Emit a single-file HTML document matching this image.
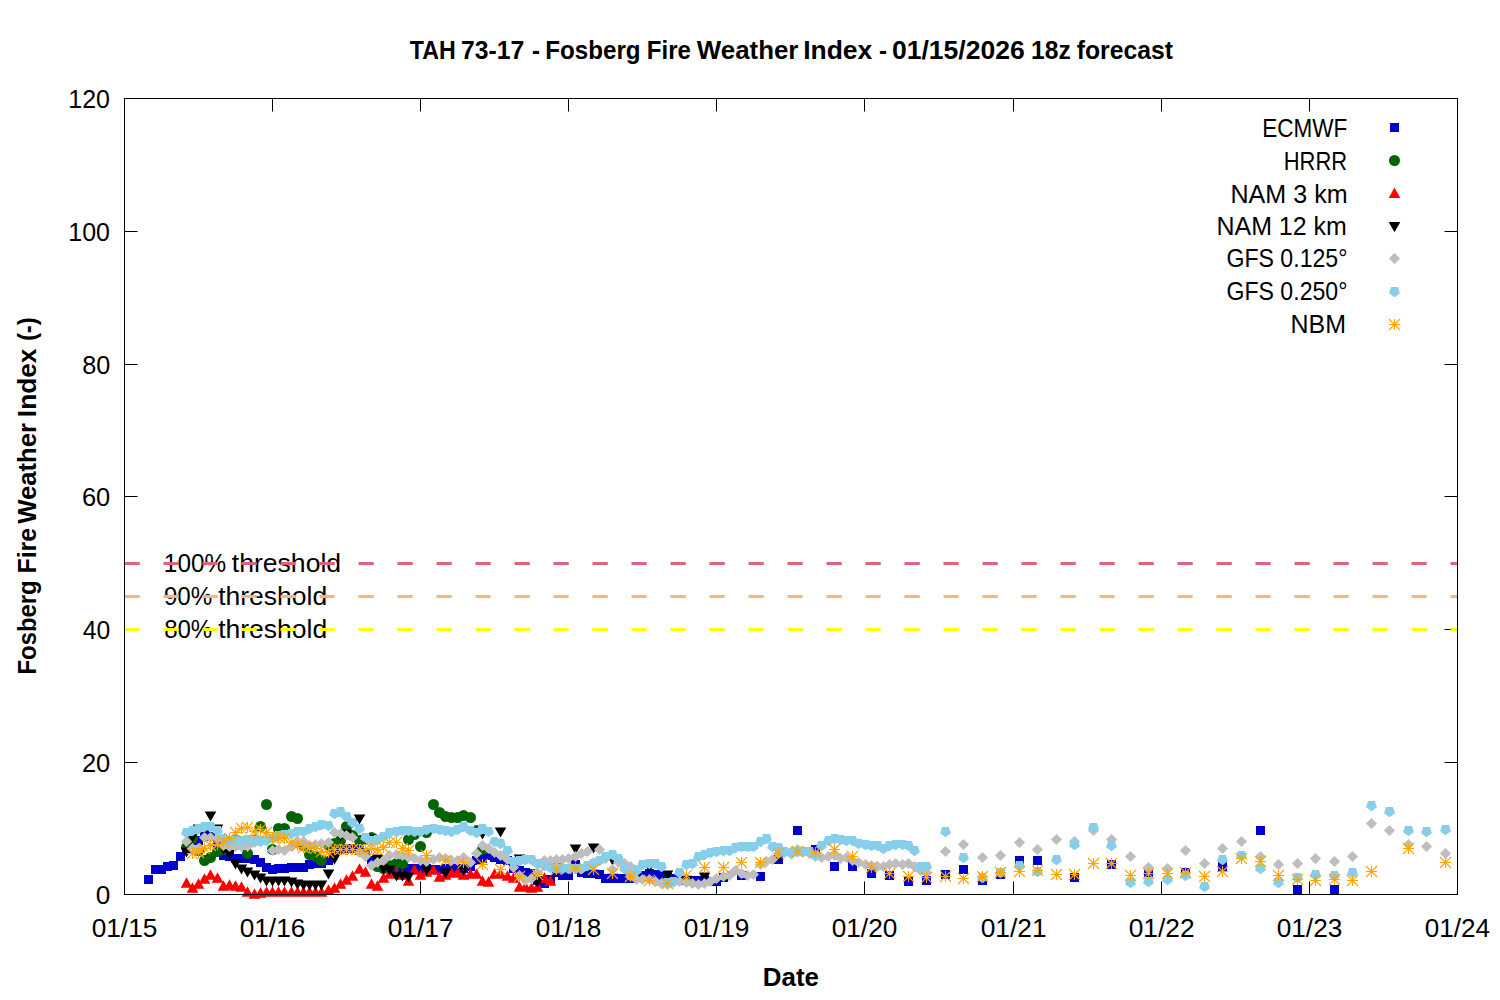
<!DOCTYPE html>
<html><head><meta charset="utf-8"><title>TAH 73-17 - Fosberg Fire Weather Index</title>
<style>html,body{margin:0;padding:0;background:#fff;width:1500px;height:1000px;overflow:hidden}
svg{display:block;font-family:'Liberation Sans', 'DejaVu Sans', sans-serif;fill:#000}</style></head>
<body>
<svg width="1500" height="1000" viewBox="0 0 1500 1000">
<rect x="0" y="0" width="1500" height="1000" fill="#fff"/>
<text x="409.77" y="58.50" font-size="25" font-weight="bold" textLength="45.88" lengthAdjust="spacingAndGlyphs">TAH</text>
<text x="461.01" y="58.50" font-size="25" font-weight="bold" textLength="63.18" lengthAdjust="spacingAndGlyphs">73-17</text>
<text x="532.04" y="58.50" font-size="25" font-weight="bold" textLength="8.00" lengthAdjust="spacingAndGlyphs">-</text>
<text x="545.31" y="58.50" font-size="25" font-weight="bold" textLength="95.26" lengthAdjust="spacingAndGlyphs">Fosberg</text>
<text x="646.82" y="58.50" font-size="25" font-weight="bold" textLength="44.11" lengthAdjust="spacingAndGlyphs">Fire</text>
<text x="696.80" y="58.50" font-size="25" font-weight="bold" textLength="101.65" lengthAdjust="spacingAndGlyphs">Weather</text>
<text x="803.15" y="58.50" font-size="25" font-weight="bold" textLength="69.17" lengthAdjust="spacingAndGlyphs">Index</text>
<text x="879.04" y="58.50" font-size="25" font-weight="bold" textLength="8.00" lengthAdjust="spacingAndGlyphs">-</text>
<text x="891.94" y="58.50" font-size="25" font-weight="bold" textLength="132.79" lengthAdjust="spacingAndGlyphs">01/15/2026</text>
<text x="1031.12" y="58.50" font-size="25" font-weight="bold" textLength="39.68" lengthAdjust="spacingAndGlyphs">18z</text>
<text x="1076.81" y="58.50" font-size="25" font-weight="bold" textLength="96.06" lengthAdjust="spacingAndGlyphs">forecast</text>
<text x="68.30" y="107.50" font-size="25" textLength="41.66" lengthAdjust="spacingAndGlyphs">120</text>
<text x="68.30" y="240.50" font-size="25" textLength="41.66" lengthAdjust="spacingAndGlyphs">100</text>
<text x="82.19" y="373.50" font-size="25" textLength="28.08" lengthAdjust="spacingAndGlyphs">80</text>
<text x="81.93" y="505.50" font-size="25" textLength="28.36" lengthAdjust="spacingAndGlyphs">60</text>
<text x="82.70" y="638.50" font-size="25" textLength="27.55" lengthAdjust="spacingAndGlyphs">40</text>
<text x="81.93" y="771.50" font-size="25" textLength="28.36" lengthAdjust="spacingAndGlyphs">20</text>
<text x="95.65" y="903.50" font-size="25" textLength="14.60" lengthAdjust="spacingAndGlyphs">0</text>
<text x="91.70" y="936.90" font-size="25" textLength="65.66" lengthAdjust="spacingAndGlyphs">01/15</text>
<text x="239.70" y="936.90" font-size="25" textLength="65.66" lengthAdjust="spacingAndGlyphs">01/16</text>
<text x="387.70" y="936.90" font-size="25" textLength="65.94" lengthAdjust="spacingAndGlyphs">01/17</text>
<text x="535.70" y="936.90" font-size="25" textLength="65.66" lengthAdjust="spacingAndGlyphs">01/18</text>
<text x="683.70" y="936.90" font-size="25" textLength="65.66" lengthAdjust="spacingAndGlyphs">01/19</text>
<text x="831.70" y="936.90" font-size="25" textLength="65.66" lengthAdjust="spacingAndGlyphs">01/20</text>
<text x="980.70" y="936.90" font-size="25" textLength="65.94" lengthAdjust="spacingAndGlyphs">01/21</text>
<text x="1128.70" y="936.90" font-size="25" textLength="65.94" lengthAdjust="spacingAndGlyphs">01/22</text>
<text x="1276.70" y="936.90" font-size="25" textLength="65.66" lengthAdjust="spacingAndGlyphs">01/23</text>
<text x="1424.70" y="936.90" font-size="25" textLength="65.39" lengthAdjust="spacingAndGlyphs">01/24</text>
<path d="M124.5,231.5h13M1457.5,231.5h-13M124.5,364.5h13M1457.5,364.5h-13M124.5,496.5h13M1457.5,496.5h-13M124.5,629.5h13M1457.5,629.5h-13M124.5,762.5h13M1457.5,762.5h-13M272.5,894.5v-13M272.5,98.5v13M420.5,894.5v-13M420.5,98.5v13M568.5,894.5v-13M568.5,98.5v13M716.5,894.5v-13M716.5,98.5v13M864.5,894.5v-13M864.5,98.5v13M1013.5,894.5v-13M1013.5,98.5v13M1161.5,894.5v-13M1161.5,98.5v13M1309.5,894.5v-13M1309.5,98.5v13" stroke="#000" stroke-width="1" fill="none"/>
<text x="762.89" y="985.70" font-size="25" font-weight="bold" textLength="56.08" lengthAdjust="spacingAndGlyphs">Date</text>
<text transform="translate(36.4,674.47) rotate(-90)" x="0" y="0" font-size="25" font-weight="bold" textLength="94.02" lengthAdjust="spacingAndGlyphs">Fosberg</text>
<text transform="translate(36.4,573.54) rotate(-90)" x="0" y="0" font-size="25" font-weight="bold" textLength="45.59" lengthAdjust="spacingAndGlyphs">Fire</text>
<text transform="translate(36.4,523.70) rotate(-90)" x="0" y="0" font-size="25" font-weight="bold" textLength="100.75" lengthAdjust="spacingAndGlyphs">Weather</text>
<text transform="translate(36.4,417.13) rotate(-90)" x="0" y="0" font-size="25" font-weight="bold" textLength="68.45" lengthAdjust="spacingAndGlyphs">Index</text>
<text transform="translate(36.4,341.09) rotate(-90)" x="0" y="0" font-size="25" font-weight="bold" textLength="23.76" lengthAdjust="spacingAndGlyphs">(-)</text>
<text x="163.85" y="571.80" font-size="25" textLength="62.28" lengthAdjust="spacingAndGlyphs">100%</text>
<text x="231.77" y="571.80" font-size="25" textLength="109.34" lengthAdjust="spacingAndGlyphs">threshold</text>
<text x="163.89" y="604.70" font-size="25" textLength="48.38" lengthAdjust="spacingAndGlyphs">90%</text>
<text x="218.17" y="604.70" font-size="25" textLength="109.04" lengthAdjust="spacingAndGlyphs">threshold</text>
<text x="164.14" y="638.00" font-size="25" textLength="48.13" lengthAdjust="spacingAndGlyphs">80%</text>
<text x="218.17" y="638.00" font-size="25" textLength="109.04" lengthAdjust="spacingAndGlyphs">threshold</text>
<path d="M124.5,563.50H1457.5" stroke="#de6478" stroke-width="3" stroke-dasharray="15.25 23.75" fill="none"/>
<path d="M124.5,596.50H1457.5" stroke="#f9b67c" stroke-width="3" stroke-dasharray="15.25 23.75" fill="none"/>
<path d="M124.5,629.50H1457.5" stroke="#ffff00" stroke-width="3" stroke-dasharray="15.25 23.75" fill="none"/>
<text x="1262.20" y="137.00" font-size="25" textLength="85.13" lengthAdjust="spacingAndGlyphs">ECMWF</text>
<text x="1283.75" y="170.00" font-size="25" textLength="63.32" lengthAdjust="spacingAndGlyphs">HRRR</text>
<text x="1230.49" y="202.50" font-size="25" textLength="117.20" lengthAdjust="spacingAndGlyphs">NAM 3 km</text>
<text x="1216.50" y="234.80" font-size="25" textLength="130.29" lengthAdjust="spacingAndGlyphs">NAM 12 km</text>
<text x="1226.44" y="267.20" font-size="25" textLength="120.99" lengthAdjust="spacingAndGlyphs">GFS 0.125°</text>
<text x="1226.44" y="299.80" font-size="25" textLength="120.99" lengthAdjust="spacingAndGlyphs">GFS 0.250°</text>
<text x="1290.60" y="332.90" font-size="25" textLength="55.45" lengthAdjust="spacingAndGlyphs">NBM</text>
<path d="M144.0,875.0h9v9h-9zM151.0,865.0h9v9h-9zM157.0,865.0h9v9h-9zM163.0,862.0h9v9h-9zM169.0,861.0h9v9h-9zM176.0,852.0h9v9h-9zM182.0,844.0h9v9h-9zM188.0,836.0h9v9h-9zM194.0,836.0h9v9h-9zM200.0,830.0h9v9h-9zM206.0,832.0h9v9h-9zM213.0,838.0h9v9h-9zM219.0,851.0h9v9h-9zM225.0,852.0h9v9h-9zM231.0,854.0h9v9h-9zM237.0,854.0h9v9h-9zM243.0,854.0h9v9h-9zM250.0,855.0h9v9h-9zM256.0,858.0h9v9h-9zM262.0,863.0h9v9h-9zM268.0,865.0h9v9h-9zM274.0,864.0h9v9h-9zM280.0,864.0h9v9h-9zM287.0,863.0h9v9h-9zM293.0,863.0h9v9h-9zM299.0,863.0h9v9h-9zM305.0,860.0h9v9h-9zM311.0,859.0h9v9h-9zM317.0,859.0h9v9h-9zM324.0,856.0h9v9h-9zM330.0,848.0h9v9h-9zM336.0,845.0h9v9h-9zM342.0,844.0h9v9h-9zM348.0,844.0h9v9h-9zM355.0,846.0h9v9h-9zM361.0,848.0h9v9h-9zM367.0,856.0h9v9h-9zM373.0,859.0h9v9h-9zM379.0,862.0h9v9h-9zM385.0,863.0h9v9h-9zM392.0,863.0h9v9h-9zM398.0,863.0h9v9h-9zM404.0,864.0h9v9h-9zM410.0,864.0h9v9h-9zM416.0,864.0h9v9h-9zM422.0,864.0h9v9h-9zM429.0,865.0h9v9h-9zM435.0,865.0h9v9h-9zM441.0,864.0h9v9h-9zM447.0,864.0h9v9h-9zM453.0,864.0h9v9h-9zM459.0,864.0h9v9h-9zM466.0,862.0h9v9h-9zM472.0,856.0h9v9h-9zM478.0,854.0h9v9h-9zM484.0,851.0h9v9h-9zM490.0,853.0h9v9h-9zM496.0,855.0h9v9h-9zM503.0,856.0h9v9h-9zM509.0,864.0h9v9h-9zM515.0,866.0h9v9h-9zM521.0,868.0h9v9h-9zM527.0,869.0h9v9h-9zM533.0,876.0h9v9h-9zM540.0,879.0h9v9h-9zM546.0,875.0h9v9h-9zM552.0,868.0h9v9h-9zM558.0,871.0h9v9h-9zM564.0,871.0h9v9h-9zM571.0,860.0h9v9h-9zM577.0,868.0h9v9h-9zM583.0,869.0h9v9h-9zM589.0,869.0h9v9h-9zM595.0,870.0h9v9h-9zM601.0,874.0h9v9h-9zM608.0,874.0h9v9h-9zM614.0,874.0h9v9h-9zM620.0,874.0h9v9h-9zM626.0,874.0h9v9h-9zM632.0,873.0h9v9h-9zM638.0,871.0h9v9h-9zM645.0,869.0h9v9h-9zM651.0,870.0h9v9h-9zM657.0,871.0h9v9h-9zM663.0,872.0h9v9h-9zM669.0,874.0h9v9h-9zM675.0,876.0h9v9h-9zM682.0,876.0h9v9h-9zM688.0,876.0h9v9h-9zM694.0,876.0h9v9h-9zM700.0,876.0h9v9h-9zM706.0,877.0h9v9h-9zM712.0,877.0h9v9h-9zM719.0,873.0h9v9h-9zM737.0,871.0h9v9h-9zM756.0,872.0h9v9h-9zM774.0,855.0h9v9h-9zM793.0,826.0h9v9h-9zM811.0,845.0h9v9h-9zM830.0,862.0h9v9h-9zM848.0,862.0h9v9h-9zM867.0,869.0h9v9h-9zM885.0,871.0h9v9h-9zM904.0,877.0h9v9h-9zM922.0,876.0h9v9h-9zM941.0,870.0h9v9h-9zM959.0,865.0h9v9h-9zM978.0,876.0h9v9h-9zM996.0,870.0h9v9h-9zM1015.0,856.0h9v9h-9zM1033.0,856.0h9v9h-9zM1070.0,873.0h9v9h-9zM1107.0,860.0h9v9h-9zM1144.0,869.0h9v9h-9zM1181.0,868.0h9v9h-9zM1218.0,862.0h9v9h-9zM1256.0,826.0h9v9h-9zM1293.0,885.0h9v9h-9zM1330.0,885.0h9v9h-9z" fill="#0000cd"/>
<g fill="#006400"><circle cx="186.5" cy="847.5" r="5.5"/><circle cx="192.5" cy="838.5" r="5.5"/><circle cx="198.5" cy="850.5" r="5.5"/><circle cx="204.5" cy="860.5" r="5.5"/><circle cx="210.5" cy="857.5" r="5.5"/><circle cx="217.5" cy="851.5" r="5.5"/><circle cx="223.5" cy="849.5" r="5.5"/><circle cx="229.5" cy="846.5" r="5.5"/><circle cx="235.5" cy="840.5" r="5.5"/><circle cx="241.5" cy="842.5" r="5.5"/><circle cx="247.5" cy="853.5" r="5.5"/><circle cx="254.5" cy="840.5" r="5.5"/><circle cx="260.5" cy="826.5" r="5.5"/><circle cx="266.5" cy="804.5" r="5.5"/><circle cx="272.5" cy="849.5" r="5.5"/><circle cx="278.5" cy="828.5" r="5.5"/><circle cx="284.5" cy="828.5" r="5.5"/><circle cx="291.5" cy="816.5" r="5.5"/><circle cx="297.5" cy="818.5" r="5.5"/><circle cx="303.5" cy="845.5" r="5.5"/><circle cx="309.5" cy="854.5" r="5.5"/><circle cx="315.5" cy="856.5" r="5.5"/><circle cx="321.5" cy="860.5" r="5.5"/><circle cx="328.5" cy="845.5" r="5.5"/><circle cx="334.5" cy="843.5" r="5.5"/><circle cx="340.5" cy="840.5" r="5.5"/><circle cx="346.5" cy="826.5" r="5.5"/><circle cx="352.5" cy="835.5" r="5.5"/><circle cx="359.5" cy="840.5" r="5.5"/><circle cx="365.5" cy="838.5" r="5.5"/><circle cx="371.5" cy="837.5" r="5.5"/><circle cx="377.5" cy="866.5" r="5.5"/><circle cx="383.5" cy="868.5" r="5.5"/><circle cx="389.5" cy="865.5" r="5.5"/><circle cx="396.5" cy="863.5" r="5.5"/><circle cx="402.5" cy="863.5" r="5.5"/><circle cx="408.5" cy="839.5" r="5.5"/><circle cx="414.5" cy="834.5" r="5.5"/><circle cx="420.5" cy="846.5" r="5.5"/><circle cx="426.5" cy="832.5" r="5.5"/><circle cx="433.5" cy="804.5" r="5.5"/><circle cx="439.5" cy="812.5" r="5.5"/><circle cx="445.5" cy="816.5" r="5.5"/><circle cx="451.5" cy="817.5" r="5.5"/><circle cx="457.5" cy="817.5" r="5.5"/><circle cx="463.5" cy="815.5" r="5.5"/><circle cx="470.5" cy="817.5" r="5.5"/><circle cx="476.5" cy="830.5" r="5.5"/><circle cx="482.5" cy="849.5" r="5.5"/></g>
<path d="M186.5,877.3l5.8,10.4h-11.6zM192.5,882.3l5.8,10.4h-11.6zM198.5,878.3l5.8,10.4h-11.6zM204.5,873.3l5.8,10.4h-11.6zM210.5,869.3l5.8,10.4h-11.6zM217.5,872.3l5.8,10.4h-11.6zM223.5,880.3l5.8,10.4h-11.6zM229.5,879.3l5.8,10.4h-11.6zM235.5,880.3l5.8,10.4h-11.6zM241.5,881.3l5.8,10.4h-11.6zM247.5,886.3l5.8,10.4h-11.6zM254.5,888.3l5.8,10.4h-11.6zM260.5,887.3l5.8,10.4h-11.6zM266.5,886.3l5.8,10.4h-11.6zM272.5,886.3l5.8,10.4h-11.6zM278.5,886.3l5.8,10.4h-11.6zM284.5,886.3l5.8,10.4h-11.6zM291.5,886.3l5.8,10.4h-11.6zM297.5,886.3l5.8,10.4h-11.6zM303.5,886.3l5.8,10.4h-11.6zM309.5,886.3l5.8,10.4h-11.6zM315.5,886.3l5.8,10.4h-11.6zM321.5,886.3l5.8,10.4h-11.6zM328.5,884.3l5.8,10.4h-11.6zM334.5,882.3l5.8,10.4h-11.6zM340.5,878.3l5.8,10.4h-11.6zM346.5,874.3l5.8,10.4h-11.6zM352.5,870.3l5.8,10.4h-11.6zM359.5,863.3l5.8,10.4h-11.6zM365.5,866.3l5.8,10.4h-11.6zM371.5,878.3l5.8,10.4h-11.6zM377.5,880.3l5.8,10.4h-11.6zM383.5,872.3l5.8,10.4h-11.6zM389.5,868.3l5.8,10.4h-11.6zM396.5,867.3l5.8,10.4h-11.6zM402.5,869.3l5.8,10.4h-11.6zM408.5,875.3l5.8,10.4h-11.6zM414.5,864.3l5.8,10.4h-11.6zM420.5,869.3l5.8,10.4h-11.6zM426.5,866.3l5.8,10.4h-11.6zM433.5,864.3l5.8,10.4h-11.6zM439.5,871.3l5.8,10.4h-11.6zM445.5,869.3l5.8,10.4h-11.6zM451.5,867.3l5.8,10.4h-11.6zM457.5,867.3l5.8,10.4h-11.6zM463.5,869.3l5.8,10.4h-11.6zM470.5,868.3l5.8,10.4h-11.6zM476.5,868.3l5.8,10.4h-11.6zM482.5,875.3l5.8,10.4h-11.6zM488.5,876.3l5.8,10.4h-11.6zM494.5,868.3l5.8,10.4h-11.6zM500.5,868.3l5.8,10.4h-11.6zM507.5,870.3l5.8,10.4h-11.6zM513.5,872.3l5.8,10.4h-11.6zM519.5,881.3l5.8,10.4h-11.6zM525.5,881.3l5.8,10.4h-11.6zM531.5,882.3l5.8,10.4h-11.6zM537.5,881.3l5.8,10.4h-11.6zM544.5,872.3l5.8,10.4h-11.6zM550.5,875.3l5.8,10.4h-11.6z" fill="#ff0000"/>
<path d="M180.7,847.4h11.6l-5.8,10.2zM186.7,832.4h11.6l-5.8,10.2zM192.7,824.4h11.6l-5.8,10.2zM198.7,825.4h11.6l-5.8,10.2zM204.7,811.4h11.6l-5.8,10.2zM211.7,824.4h11.6l-5.8,10.2zM217.7,844.4h11.6l-5.8,10.2zM223.7,849.4h11.6l-5.8,10.2zM229.7,859.4h11.6l-5.8,10.2zM235.7,864.4h11.6l-5.8,10.2zM241.7,867.4h11.6l-5.8,10.2zM248.7,870.4h11.6l-5.8,10.2zM254.7,873.4h11.6l-5.8,10.2zM260.7,876.4h11.6l-5.8,10.2zM266.7,876.4h11.6l-5.8,10.2zM272.7,876.4h11.6l-5.8,10.2zM278.7,876.4h11.6l-5.8,10.2zM285.7,877.4h11.6l-5.8,10.2zM291.7,879.4h11.6l-5.8,10.2zM297.7,880.4h11.6l-5.8,10.2zM303.7,880.4h11.6l-5.8,10.2zM309.7,880.4h11.6l-5.8,10.2zM315.7,880.4h11.6l-5.8,10.2zM322.7,869.4h11.6l-5.8,10.2zM328.7,854.4h11.6l-5.8,10.2zM334.7,831.4h11.6l-5.8,10.2zM340.7,829.4h11.6l-5.8,10.2zM346.7,818.4h11.6l-5.8,10.2zM353.7,814.4h11.6l-5.8,10.2zM359.7,835.4h11.6l-5.8,10.2zM365.7,834.4h11.6l-5.8,10.2zM371.7,854.4h11.6l-5.8,10.2zM377.7,864.4h11.6l-5.8,10.2zM383.7,865.4h11.6l-5.8,10.2zM390.7,871.4h11.6l-5.8,10.2zM396.7,871.4h11.6l-5.8,10.2zM402.7,872.4h11.6l-5.8,10.2zM420.7,865.4h11.6l-5.8,10.2zM439.7,868.4h11.6l-5.8,10.2zM457.7,865.4h11.6l-5.8,10.2zM476.7,829.4h11.6l-5.8,10.2zM494.7,827.4h11.6l-5.8,10.2zM513.7,854.4h11.6l-5.8,10.2zM531.7,877.4h11.6l-5.8,10.2zM550.7,863.4h11.6l-5.8,10.2zM569.7,844.4h11.6l-5.8,10.2zM587.7,843.4h11.6l-5.8,10.2zM606.7,855.4h11.6l-5.8,10.2zM624.7,865.4h11.6l-5.8,10.2zM643.7,862.4h11.6l-5.8,10.2zM661.7,870.4h11.6l-5.8,10.2zM680.7,876.4h11.6l-5.8,10.2zM698.7,872.4h11.6l-5.8,10.2z" fill="#000000"/>
<path d="M186.5,835.9l5.6,5.6l-5.6,5.6l-5.6,-5.6zM192.5,842.9l5.6,5.6l-5.6,5.6l-5.6,-5.6zM198.5,842.9l5.6,5.6l-5.6,5.6l-5.6,-5.6zM204.5,831.9l5.6,5.6l-5.6,5.6l-5.6,-5.6zM210.5,831.9l5.6,5.6l-5.6,5.6l-5.6,-5.6zM217.5,832.9l5.6,5.6l-5.6,5.6l-5.6,-5.6zM223.5,839.9l5.6,5.6l-5.6,5.6l-5.6,-5.6zM229.5,840.9l5.6,5.6l-5.6,5.6l-5.6,-5.6zM235.5,840.9l5.6,5.6l-5.6,5.6l-5.6,-5.6zM241.5,840.9l5.6,5.6l-5.6,5.6l-5.6,-5.6zM247.5,840.9l5.6,5.6l-5.6,5.6l-5.6,-5.6zM254.5,836.9l5.6,5.6l-5.6,5.6l-5.6,-5.6zM260.5,834.9l5.6,5.6l-5.6,5.6l-5.6,-5.6zM266.5,833.9l5.6,5.6l-5.6,5.6l-5.6,-5.6zM272.5,844.9l5.6,5.6l-5.6,5.6l-5.6,-5.6zM278.5,843.9l5.6,5.6l-5.6,5.6l-5.6,-5.6zM284.5,844.9l5.6,5.6l-5.6,5.6l-5.6,-5.6zM291.5,840.9l5.6,5.6l-5.6,5.6l-5.6,-5.6zM297.5,835.9l5.6,5.6l-5.6,5.6l-5.6,-5.6zM303.5,835.9l5.6,5.6l-5.6,5.6l-5.6,-5.6zM309.5,839.9l5.6,5.6l-5.6,5.6l-5.6,-5.6zM315.5,838.9l5.6,5.6l-5.6,5.6l-5.6,-5.6zM321.5,837.9l5.6,5.6l-5.6,5.6l-5.6,-5.6zM328.5,836.9l5.6,5.6l-5.6,5.6l-5.6,-5.6zM334.5,826.9l5.6,5.6l-5.6,5.6l-5.6,-5.6zM340.5,827.9l5.6,5.6l-5.6,5.6l-5.6,-5.6zM346.5,829.9l5.6,5.6l-5.6,5.6l-5.6,-5.6zM352.5,831.9l5.6,5.6l-5.6,5.6l-5.6,-5.6zM359.5,846.9l5.6,5.6l-5.6,5.6l-5.6,-5.6zM365.5,850.9l5.6,5.6l-5.6,5.6l-5.6,-5.6zM371.5,859.9l5.6,5.6l-5.6,5.6l-5.6,-5.6zM377.5,856.9l5.6,5.6l-5.6,5.6l-5.6,-5.6zM383.5,854.9l5.6,5.6l-5.6,5.6l-5.6,-5.6zM389.5,849.9l5.6,5.6l-5.6,5.6l-5.6,-5.6zM396.5,848.9l5.6,5.6l-5.6,5.6l-5.6,-5.6zM402.5,849.9l5.6,5.6l-5.6,5.6l-5.6,-5.6zM408.5,851.9l5.6,5.6l-5.6,5.6l-5.6,-5.6zM414.5,852.9l5.6,5.6l-5.6,5.6l-5.6,-5.6zM420.5,854.9l5.6,5.6l-5.6,5.6l-5.6,-5.6zM426.5,855.9l5.6,5.6l-5.6,5.6l-5.6,-5.6zM433.5,853.9l5.6,5.6l-5.6,5.6l-5.6,-5.6zM439.5,851.9l5.6,5.6l-5.6,5.6l-5.6,-5.6zM445.5,852.9l5.6,5.6l-5.6,5.6l-5.6,-5.6zM451.5,854.9l5.6,5.6l-5.6,5.6l-5.6,-5.6zM457.5,854.9l5.6,5.6l-5.6,5.6l-5.6,-5.6zM463.5,851.9l5.6,5.6l-5.6,5.6l-5.6,-5.6zM470.5,856.9l5.6,5.6l-5.6,5.6l-5.6,-5.6zM476.5,847.9l5.6,5.6l-5.6,5.6l-5.6,-5.6zM482.5,839.9l5.6,5.6l-5.6,5.6l-5.6,-5.6zM488.5,842.9l5.6,5.6l-5.6,5.6l-5.6,-5.6zM494.5,846.9l5.6,5.6l-5.6,5.6l-5.6,-5.6zM500.5,849.9l5.6,5.6l-5.6,5.6l-5.6,-5.6zM507.5,853.9l5.6,5.6l-5.6,5.6l-5.6,-5.6zM513.5,861.9l5.6,5.6l-5.6,5.6l-5.6,-5.6zM519.5,869.9l5.6,5.6l-5.6,5.6l-5.6,-5.6zM525.5,874.9l5.6,5.6l-5.6,5.6l-5.6,-5.6zM531.5,872.9l5.6,5.6l-5.6,5.6l-5.6,-5.6zM537.5,866.9l5.6,5.6l-5.6,5.6l-5.6,-5.6zM544.5,854.9l5.6,5.6l-5.6,5.6l-5.6,-5.6zM550.5,854.9l5.6,5.6l-5.6,5.6l-5.6,-5.6zM556.5,853.9l5.6,5.6l-5.6,5.6l-5.6,-5.6zM562.5,853.9l5.6,5.6l-5.6,5.6l-5.6,-5.6zM568.5,852.9l5.6,5.6l-5.6,5.6l-5.6,-5.6zM575.5,850.9l5.6,5.6l-5.6,5.6l-5.6,-5.6zM581.5,847.9l5.6,5.6l-5.6,5.6l-5.6,-5.6zM587.5,845.9l5.6,5.6l-5.6,5.6l-5.6,-5.6zM593.5,856.9l5.6,5.6l-5.6,5.6l-5.6,-5.6zM599.5,843.9l5.6,5.6l-5.6,5.6l-5.6,-5.6zM605.5,852.9l5.6,5.6l-5.6,5.6l-5.6,-5.6zM612.5,863.9l5.6,5.6l-5.6,5.6l-5.6,-5.6zM618.5,856.9l5.6,5.6l-5.6,5.6l-5.6,-5.6zM624.5,857.9l5.6,5.6l-5.6,5.6l-5.6,-5.6zM630.5,860.9l5.6,5.6l-5.6,5.6l-5.6,-5.6zM636.5,873.9l5.6,5.6l-5.6,5.6l-5.6,-5.6zM642.5,873.9l5.6,5.6l-5.6,5.6l-5.6,-5.6zM649.5,873.9l5.6,5.6l-5.6,5.6l-5.6,-5.6zM655.5,875.9l5.6,5.6l-5.6,5.6l-5.6,-5.6zM661.5,877.9l5.6,5.6l-5.6,5.6l-5.6,-5.6zM667.5,878.9l5.6,5.6l-5.6,5.6l-5.6,-5.6zM673.5,876.9l5.6,5.6l-5.6,5.6l-5.6,-5.6zM679.5,875.9l5.6,5.6l-5.6,5.6l-5.6,-5.6zM686.5,876.9l5.6,5.6l-5.6,5.6l-5.6,-5.6zM692.5,877.9l5.6,5.6l-5.6,5.6l-5.6,-5.6zM698.5,878.9l5.6,5.6l-5.6,5.6l-5.6,-5.6zM704.5,877.9l5.6,5.6l-5.6,5.6l-5.6,-5.6zM710.5,875.9l5.6,5.6l-5.6,5.6l-5.6,-5.6zM716.5,872.9l5.6,5.6l-5.6,5.6l-5.6,-5.6zM723.5,870.9l5.6,5.6l-5.6,5.6l-5.6,-5.6zM729.5,869.9l5.6,5.6l-5.6,5.6l-5.6,-5.6zM735.5,864.9l5.6,5.6l-5.6,5.6l-5.6,-5.6zM741.5,867.9l5.6,5.6l-5.6,5.6l-5.6,-5.6zM747.5,869.9l5.6,5.6l-5.6,5.6l-5.6,-5.6zM753.5,868.9l5.6,5.6l-5.6,5.6l-5.6,-5.6zM760.5,858.9l5.6,5.6l-5.6,5.6l-5.6,-5.6zM766.5,855.9l5.6,5.6l-5.6,5.6l-5.6,-5.6zM772.5,853.9l5.6,5.6l-5.6,5.6l-5.6,-5.6zM778.5,847.9l5.6,5.6l-5.6,5.6l-5.6,-5.6zM784.5,846.9l5.6,5.6l-5.6,5.6l-5.6,-5.6zM791.5,845.9l5.6,5.6l-5.6,5.6l-5.6,-5.6zM797.5,843.9l5.6,5.6l-5.6,5.6l-5.6,-5.6zM803.5,845.9l5.6,5.6l-5.6,5.6l-5.6,-5.6zM809.5,847.9l5.6,5.6l-5.6,5.6l-5.6,-5.6zM815.5,850.9l5.6,5.6l-5.6,5.6l-5.6,-5.6zM821.5,851.9l5.6,5.6l-5.6,5.6l-5.6,-5.6zM828.5,850.9l5.6,5.6l-5.6,5.6l-5.6,-5.6zM834.5,849.9l5.6,5.6l-5.6,5.6l-5.6,-5.6zM840.5,852.9l5.6,5.6l-5.6,5.6l-5.6,-5.6zM846.5,851.9l5.6,5.6l-5.6,5.6l-5.6,-5.6zM852.5,854.9l5.6,5.6l-5.6,5.6l-5.6,-5.6zM858.5,856.9l5.6,5.6l-5.6,5.6l-5.6,-5.6zM865.5,858.9l5.6,5.6l-5.6,5.6l-5.6,-5.6zM871.5,859.9l5.6,5.6l-5.6,5.6l-5.6,-5.6zM877.5,860.9l5.6,5.6l-5.6,5.6l-5.6,-5.6zM883.5,860.9l5.6,5.6l-5.6,5.6l-5.6,-5.6zM889.5,858.9l5.6,5.6l-5.6,5.6l-5.6,-5.6zM895.5,857.9l5.6,5.6l-5.6,5.6l-5.6,-5.6zM902.5,858.9l5.6,5.6l-5.6,5.6l-5.6,-5.6zM908.5,857.9l5.6,5.6l-5.6,5.6l-5.6,-5.6zM914.5,860.9l5.6,5.6l-5.6,5.6l-5.6,-5.6zM920.5,864.9l5.6,5.6l-5.6,5.6l-5.6,-5.6zM926.5,866.9l5.6,5.6l-5.6,5.6l-5.6,-5.6zM945.5,845.9l5.6,5.6l-5.6,5.6l-5.6,-5.6zM963.5,838.9l5.6,5.6l-5.6,5.6l-5.6,-5.6zM982.5,851.9l5.6,5.6l-5.6,5.6l-5.6,-5.6zM1000.5,849.9l5.6,5.6l-5.6,5.6l-5.6,-5.6zM1019.5,836.9l5.6,5.6l-5.6,5.6l-5.6,-5.6zM1037.5,843.9l5.6,5.6l-5.6,5.6l-5.6,-5.6zM1056.5,833.9l5.6,5.6l-5.6,5.6l-5.6,-5.6zM1074.5,835.9l5.6,5.6l-5.6,5.6l-5.6,-5.6zM1093.5,824.9l5.6,5.6l-5.6,5.6l-5.6,-5.6zM1111.5,833.9l5.6,5.6l-5.6,5.6l-5.6,-5.6zM1130.5,850.9l5.6,5.6l-5.6,5.6l-5.6,-5.6zM1148.5,861.9l5.6,5.6l-5.6,5.6l-5.6,-5.6zM1167.5,862.9l5.6,5.6l-5.6,5.6l-5.6,-5.6zM1185.5,844.9l5.6,5.6l-5.6,5.6l-5.6,-5.6zM1204.5,857.9l5.6,5.6l-5.6,5.6l-5.6,-5.6zM1222.5,842.9l5.6,5.6l-5.6,5.6l-5.6,-5.6zM1241.5,835.9l5.6,5.6l-5.6,5.6l-5.6,-5.6zM1260.5,850.9l5.6,5.6l-5.6,5.6l-5.6,-5.6zM1278.5,858.9l5.6,5.6l-5.6,5.6l-5.6,-5.6zM1297.5,857.9l5.6,5.6l-5.6,5.6l-5.6,-5.6zM1315.5,852.9l5.6,5.6l-5.6,5.6l-5.6,-5.6zM1334.5,855.9l5.6,5.6l-5.6,5.6l-5.6,-5.6zM1352.5,850.9l5.6,5.6l-5.6,5.6l-5.6,-5.6zM1371.5,817.9l5.6,5.6l-5.6,5.6l-5.6,-5.6zM1389.5,824.9l5.6,5.6l-5.6,5.6l-5.6,-5.6zM1408.5,838.9l5.6,5.6l-5.6,5.6l-5.6,-5.6zM1426.5,840.9l5.6,5.6l-5.6,5.6l-5.6,-5.6zM1445.5,847.9l5.6,5.6l-5.6,5.6l-5.6,-5.6z" fill="#bebebe"/>
<path d="M186.5,838.2L191.9,834.3L189.9,827.9L183.1,827.9L181.1,834.3zM192.5,836.2L197.9,832.3L195.9,825.9L189.1,825.9L187.1,832.3zM198.5,834.2L203.9,830.3L201.9,823.9L195.1,823.9L193.1,830.3zM204.5,832.2L209.9,828.3L207.9,821.9L201.1,821.9L199.1,828.3zM210.5,832.2L215.9,828.3L213.9,821.9L207.1,821.9L205.1,828.3zM217.5,836.2L222.9,832.3L220.9,825.9L214.1,825.9L212.1,832.3zM223.5,844.2L228.9,840.3L226.9,833.9L220.1,833.9L218.1,840.3zM229.5,846.2L234.9,842.3L232.9,835.9L226.1,835.9L224.1,842.3zM235.5,846.2L240.9,842.3L238.9,835.9L232.1,835.9L230.1,842.3zM241.5,846.2L246.9,842.3L244.9,835.9L238.1,835.9L236.1,842.3zM247.5,845.2L252.9,841.3L250.9,834.9L244.1,834.9L242.1,841.3zM254.5,846.2L259.9,842.3L257.9,835.9L251.1,835.9L249.1,842.3zM260.5,847.2L265.9,843.3L263.9,836.9L257.1,836.9L255.1,843.3zM266.5,846.2L271.9,842.3L269.9,835.9L263.1,835.9L261.1,842.3zM272.5,844.2L277.9,840.3L275.9,833.9L269.1,833.9L267.1,840.3zM278.5,841.2L283.9,837.3L281.9,830.9L275.1,830.9L273.1,837.3zM284.5,840.2L289.9,836.3L287.9,829.9L281.1,829.9L279.1,836.3zM291.5,839.2L296.9,835.3L294.9,828.9L288.1,828.9L286.1,835.3zM297.5,837.2L302.9,833.3L300.9,826.9L294.1,826.9L292.1,833.3zM303.5,837.2L308.9,833.3L306.9,826.9L300.1,826.9L298.1,833.3zM309.5,834.2L314.9,830.3L312.9,823.9L306.1,823.9L304.1,830.3zM315.5,832.2L320.9,828.3L318.9,821.9L312.1,821.9L310.1,828.3zM321.5,830.2L326.9,826.3L324.9,819.9L318.1,819.9L316.1,826.3zM328.5,831.2L333.9,827.3L331.9,820.9L325.1,820.9L323.1,827.3zM334.5,819.2L339.9,815.3L337.9,808.9L331.1,808.9L329.1,815.3zM340.5,817.2L345.9,813.3L343.9,806.9L337.1,806.9L335.1,813.3zM346.5,822.2L351.9,818.3L349.9,811.9L343.1,811.9L341.1,818.3zM352.5,828.2L357.9,824.3L355.9,817.9L349.1,817.9L347.1,824.3zM359.5,834.2L364.9,830.3L362.9,823.9L356.1,823.9L354.1,830.3zM365.5,843.2L370.9,839.3L368.9,832.9L362.1,832.9L360.1,839.3zM371.5,846.2L376.9,842.3L374.9,835.9L368.1,835.9L366.1,842.3zM377.5,845.2L382.9,841.3L380.9,834.9L374.1,834.9L372.1,841.3zM383.5,842.2L388.9,838.3L386.9,831.9L380.1,831.9L378.1,838.3zM389.5,838.2L394.9,834.3L392.9,827.9L386.1,827.9L384.1,834.3zM396.5,837.2L401.9,833.3L399.9,826.9L393.1,826.9L391.1,833.3zM402.5,836.2L407.9,832.3L405.9,825.9L399.1,825.9L397.1,832.3zM408.5,836.2L413.9,832.3L411.9,825.9L405.1,825.9L403.1,832.3zM414.5,837.2L419.9,833.3L417.9,826.9L411.1,826.9L409.1,833.3zM420.5,837.2L425.9,833.3L423.9,826.9L417.1,826.9L415.1,833.3zM426.5,835.2L431.9,831.3L429.9,824.9L423.1,824.9L421.1,831.3zM433.5,834.2L438.9,830.3L436.9,823.9L430.1,823.9L428.1,830.3zM439.5,835.2L444.9,831.3L442.9,824.9L436.1,824.9L434.1,831.3zM445.5,836.2L450.9,832.3L448.9,825.9L442.1,825.9L440.1,832.3zM451.5,837.2L456.9,833.3L454.9,826.9L448.1,826.9L446.1,833.3zM457.5,835.2L462.9,831.3L460.9,824.9L454.1,824.9L452.1,831.3zM463.5,832.2L468.9,828.3L466.9,821.9L460.1,821.9L458.1,828.3zM470.5,836.2L475.9,832.3L473.9,825.9L467.1,825.9L465.1,832.3zM476.5,838.2L481.9,834.3L479.9,827.9L473.1,827.9L471.1,834.3zM482.5,834.2L487.9,830.3L485.9,823.9L479.1,823.9L477.1,830.3zM488.5,837.2L493.9,833.3L491.9,826.9L485.1,826.9L483.1,833.3zM494.5,847.2L499.9,843.3L497.9,836.9L491.1,836.9L489.1,843.3zM500.5,849.2L505.9,845.3L503.9,838.9L497.1,838.9L495.1,845.3zM507.5,856.2L512.9,852.3L510.9,845.9L504.1,845.9L502.1,852.3zM513.5,867.2L518.9,863.3L516.9,856.9L510.1,856.9L508.1,863.3zM519.5,866.2L524.9,862.3L522.9,855.9L516.1,855.9L514.1,862.3zM525.5,865.2L530.9,861.3L528.9,854.9L522.1,854.9L520.1,861.3zM531.5,865.2L536.9,861.3L534.9,854.9L528.1,854.9L526.1,861.3zM537.5,869.2L542.9,865.3L540.9,858.9L534.1,858.9L532.1,865.3zM544.5,871.2L549.9,867.3L547.9,860.9L541.1,860.9L539.1,867.3zM550.5,873.2L555.9,869.3L553.9,862.9L547.1,862.9L545.1,869.3zM556.5,874.2L561.9,870.3L559.9,863.9L553.1,863.9L551.1,870.3zM562.5,874.2L567.9,870.3L565.9,863.9L559.1,863.9L557.1,870.3zM568.5,874.2L573.9,870.3L571.9,863.9L565.1,863.9L563.1,870.3zM575.5,874.2L580.9,870.3L578.9,863.9L572.1,863.9L570.1,870.3zM581.5,874.2L586.9,870.3L584.9,863.9L578.1,863.9L576.1,870.3zM587.5,871.2L592.9,867.3L590.9,860.9L584.1,860.9L582.1,867.3zM593.5,869.2L598.9,865.3L596.9,858.9L590.1,858.9L588.1,865.3zM599.5,866.2L604.9,862.3L602.9,855.9L596.1,855.9L594.1,862.3zM605.5,862.2L610.9,858.3L608.9,851.9L602.1,851.9L600.1,858.3zM612.5,860.2L617.9,856.3L615.9,849.9L609.1,849.9L607.1,856.3zM618.5,864.2L623.9,860.3L621.9,853.9L615.1,853.9L613.1,860.3zM624.5,874.2L629.9,870.3L627.9,863.9L621.1,863.9L619.1,870.3zM630.5,881.2L635.9,877.3L633.9,870.9L627.1,870.9L625.1,877.3zM636.5,876.2L641.9,872.3L639.9,865.9L633.1,865.9L631.1,872.3zM642.5,870.2L647.9,866.3L645.9,859.9L639.1,859.9L637.1,866.3zM649.5,869.2L654.9,865.3L652.9,858.9L646.1,858.9L644.1,865.3zM655.5,869.2L660.9,865.3L658.9,858.9L652.1,858.9L650.1,865.3zM661.5,872.2L666.9,868.3L664.9,861.9L658.1,861.9L656.1,868.3zM667.5,888.2L672.9,884.3L670.9,877.9L664.1,877.9L662.1,884.3zM673.5,887.2L678.9,883.3L676.9,876.9L670.1,876.9L668.1,883.3zM679.5,878.2L684.9,874.3L682.9,867.9L676.1,867.9L674.1,874.3zM686.5,870.2L691.9,866.3L689.9,859.9L683.1,859.9L681.1,866.3zM692.5,869.2L697.9,865.3L695.9,858.9L689.1,858.9L687.1,865.3zM698.5,862.2L703.9,858.3L701.9,851.9L695.1,851.9L693.1,858.3zM704.5,860.2L709.9,856.3L707.9,849.9L701.1,849.9L699.1,856.3zM710.5,858.2L715.9,854.3L713.9,847.9L707.1,847.9L705.1,854.3zM716.5,857.2L721.9,853.3L719.9,846.9L713.1,846.9L711.1,853.3zM723.5,856.2L728.9,852.3L726.9,845.9L720.1,845.9L718.1,852.3zM729.5,856.2L734.9,852.3L732.9,845.9L726.1,845.9L724.1,852.3zM735.5,853.2L740.9,849.3L738.9,842.9L732.1,842.9L730.1,849.3zM741.5,852.2L746.9,848.3L744.9,841.9L738.1,841.9L736.1,848.3zM747.5,852.2L752.9,848.3L750.9,841.9L744.1,841.9L742.1,848.3zM753.5,852.2L758.9,848.3L756.9,841.9L750.1,841.9L748.1,848.3zM760.5,847.2L765.9,843.3L763.9,836.9L757.1,836.9L755.1,843.3zM766.5,844.2L771.9,840.3L769.9,833.9L763.1,833.9L761.1,840.3zM772.5,852.2L777.9,848.3L775.9,841.9L769.1,841.9L767.1,848.3zM778.5,853.2L783.9,849.3L781.9,842.9L775.1,842.9L773.1,849.3zM784.5,857.2L789.9,853.3L787.9,846.9L781.1,846.9L779.1,853.3zM791.5,859.2L796.9,855.3L794.9,848.9L788.1,848.9L786.1,855.3zM797.5,857.2L802.9,853.3L800.9,846.9L794.1,846.9L792.1,853.3zM803.5,857.2L808.9,853.3L806.9,846.9L800.1,846.9L798.1,853.3zM809.5,857.2L814.9,853.3L812.9,846.9L806.1,846.9L804.1,853.3zM815.5,861.2L820.9,857.3L818.9,850.9L812.1,850.9L810.1,857.3zM821.5,851.2L826.9,847.3L824.9,840.9L818.1,840.9L816.1,847.3zM828.5,846.2L833.9,842.3L831.9,835.9L825.1,835.9L823.1,842.3zM834.5,844.2L839.9,840.3L837.9,833.9L831.1,833.9L829.1,840.3zM840.5,845.2L845.9,841.3L843.9,834.9L837.1,834.9L835.1,841.3zM846.5,846.2L851.9,842.3L849.9,835.9L843.1,835.9L841.1,842.3zM852.5,846.2L857.9,842.3L855.9,835.9L849.1,835.9L847.1,842.3zM858.5,849.2L863.9,845.3L861.9,838.9L855.1,838.9L853.1,845.3zM865.5,850.2L870.9,846.3L868.9,839.9L862.1,839.9L860.1,846.3zM871.5,851.2L876.9,847.3L874.9,840.9L868.1,840.9L866.1,847.3zM877.5,851.2L882.9,847.3L880.9,840.9L874.1,840.9L872.1,847.3zM883.5,854.2L888.9,850.3L886.9,843.9L880.1,843.9L878.1,850.3zM889.5,851.2L894.9,847.3L892.9,840.9L886.1,840.9L884.1,847.3zM895.5,850.2L900.9,846.3L898.9,839.9L892.1,839.9L890.1,846.3zM902.5,850.2L907.9,846.3L905.9,839.9L899.1,839.9L897.1,846.3zM908.5,851.2L913.9,847.3L911.9,840.9L905.1,840.9L903.1,847.3zM914.5,856.2L919.9,852.3L917.9,845.9L911.1,845.9L909.1,852.3zM920.5,872.2L925.9,868.3L923.9,861.9L917.1,861.9L915.1,868.3zM926.5,872.2L931.9,868.3L929.9,861.9L923.1,861.9L921.1,868.3zM945.5,837.2L950.9,833.3L948.9,826.9L942.1,826.9L940.1,833.3zM963.5,863.2L968.9,859.3L966.9,852.9L960.1,852.9L958.1,859.3zM982.5,883.2L987.9,879.3L985.9,872.9L979.1,872.9L977.1,879.3zM1000.5,878.2L1005.9,874.3L1003.9,867.9L997.1,867.9L995.1,874.3zM1019.5,871.2L1024.9,867.3L1022.9,860.9L1016.1,860.9L1014.1,867.3zM1037.5,877.2L1042.9,873.3L1040.9,866.9L1034.1,866.9L1032.1,873.3zM1056.5,865.2L1061.9,861.3L1059.9,854.9L1053.1,854.9L1051.1,861.3zM1074.5,850.2L1079.9,846.3L1077.9,839.9L1071.1,839.9L1069.1,846.3zM1093.5,833.2L1098.9,829.3L1096.9,822.9L1090.1,822.9L1088.1,829.3zM1111.5,851.2L1116.9,847.3L1114.9,840.9L1108.1,840.9L1106.1,847.3zM1130.5,888.2L1135.9,884.3L1133.9,877.9L1127.1,877.9L1125.1,884.3zM1148.5,887.2L1153.9,883.3L1151.9,876.9L1145.1,876.9L1143.1,883.3zM1167.5,885.2L1172.9,881.3L1170.9,874.9L1164.1,874.9L1162.1,881.3zM1185.5,881.2L1190.9,877.3L1188.9,870.9L1182.1,870.9L1180.1,877.3zM1204.5,892.2L1209.9,888.3L1207.9,881.9L1201.1,881.9L1199.1,888.3zM1222.5,865.2L1227.9,861.3L1225.9,854.9L1219.1,854.9L1217.1,861.3zM1241.5,861.2L1246.9,857.3L1244.9,850.9L1238.1,850.9L1236.1,857.3zM1260.5,874.2L1265.9,870.3L1263.9,863.9L1257.1,863.9L1255.1,870.3zM1278.5,888.2L1283.9,884.3L1281.9,877.9L1275.1,877.9L1273.1,884.3zM1297.5,883.2L1302.9,879.3L1300.9,872.9L1294.1,872.9L1292.1,879.3zM1315.5,880.2L1320.9,876.3L1318.9,869.9L1312.1,869.9L1310.1,876.3zM1334.5,881.2L1339.9,877.3L1337.9,870.9L1331.1,870.9L1329.1,877.3zM1352.5,878.2L1357.9,874.3L1355.9,867.9L1349.1,867.9L1347.1,874.3zM1371.5,811.2L1376.9,807.3L1374.9,800.9L1368.1,800.9L1366.1,807.3zM1389.5,817.2L1394.9,813.3L1392.9,806.9L1386.1,806.9L1384.1,813.3zM1408.5,836.2L1413.9,832.3L1411.9,825.9L1405.1,825.9L1403.1,832.3zM1426.5,837.2L1431.9,833.3L1429.9,826.9L1423.1,826.9L1421.1,833.3zM1445.5,835.2L1450.9,831.3L1448.9,824.9L1442.1,824.9L1440.1,831.3z" fill="#87ceeb"/>
<path d="M187.0,853.5h11.0M192.5,848.0v11.0M187.0,848.0l11.0,11.0M187.0,859.0l11.0,-11.0M193.0,852.5h11.0M198.5,847.0v11.0M193.0,847.0l11.0,11.0M193.0,858.0l11.0,-11.0M199.0,848.5h11.0M204.5,843.0v11.0M199.0,843.0l11.0,11.0M199.0,854.0l11.0,-11.0M205.0,845.5h11.0M210.5,840.0v11.0M205.0,840.0l11.0,11.0M205.0,851.0l11.0,-11.0M212.0,844.5h11.0M217.5,839.0v11.0M212.0,839.0l11.0,11.0M212.0,850.0l11.0,-11.0M218.0,841.5h11.0M223.5,836.0v11.0M218.0,836.0l11.0,11.0M218.0,847.0l11.0,-11.0M224.0,838.5h11.0M229.5,833.0v11.0M224.0,833.0l11.0,11.0M224.0,844.0l11.0,-11.0M230.0,832.5h11.0M235.5,827.0v11.0M230.0,827.0l11.0,11.0M230.0,838.0l11.0,-11.0M236.0,828.5h11.0M241.5,823.0v11.0M236.0,823.0l11.0,11.0M236.0,834.0l11.0,-11.0M242.0,827.5h11.0M247.5,822.0v11.0M242.0,822.0l11.0,11.0M242.0,833.0l11.0,-11.0M249.0,831.5h11.0M254.5,826.0v11.0M249.0,826.0l11.0,11.0M249.0,837.0l11.0,-11.0M255.0,829.5h11.0M260.5,824.0v11.0M255.0,824.0l11.0,11.0M255.0,835.0l11.0,-11.0M261.0,832.5h11.0M266.5,827.0v11.0M261.0,827.0l11.0,11.0M261.0,838.0l11.0,-11.0M267.0,837.5h11.0M272.5,832.0v11.0M267.0,832.0l11.0,11.0M267.0,843.0l11.0,-11.0M273.0,837.5h11.0M278.5,832.0v11.0M273.0,832.0l11.0,11.0M273.0,843.0l11.0,-11.0M279.0,838.5h11.0M284.5,833.0v11.0M279.0,833.0l11.0,11.0M279.0,844.0l11.0,-11.0M286.0,842.5h11.0M291.5,837.0v11.0M286.0,837.0l11.0,11.0M286.0,848.0l11.0,-11.0M292.0,845.5h11.0M297.5,840.0v11.0M292.0,840.0l11.0,11.0M292.0,851.0l11.0,-11.0M298.0,847.5h11.0M303.5,842.0v11.0M298.0,842.0l11.0,11.0M298.0,853.0l11.0,-11.0M304.0,847.5h11.0M309.5,842.0v11.0M304.0,842.0l11.0,11.0M304.0,853.0l11.0,-11.0M310.0,848.5h11.0M315.5,843.0v11.0M310.0,843.0l11.0,11.0M310.0,854.0l11.0,-11.0M316.0,851.5h11.0M321.5,846.0v11.0M316.0,846.0l11.0,11.0M316.0,857.0l11.0,-11.0M323.0,852.5h11.0M328.5,847.0v11.0M323.0,847.0l11.0,11.0M323.0,858.0l11.0,-11.0M329.0,849.5h11.0M334.5,844.0v11.0M329.0,844.0l11.0,11.0M329.0,855.0l11.0,-11.0M335.0,849.5h11.0M340.5,844.0v11.0M335.0,844.0l11.0,11.0M335.0,855.0l11.0,-11.0M341.0,849.5h11.0M346.5,844.0v11.0M341.0,844.0l11.0,11.0M341.0,855.0l11.0,-11.0M347.0,849.5h11.0M352.5,844.0v11.0M347.0,844.0l11.0,11.0M347.0,855.0l11.0,-11.0M354.0,849.5h11.0M359.5,844.0v11.0M354.0,844.0l11.0,11.0M354.0,855.0l11.0,-11.0M360.0,849.5h11.0M365.5,844.0v11.0M360.0,844.0l11.0,11.0M360.0,855.0l11.0,-11.0M366.0,848.5h11.0M371.5,843.0v11.0M366.0,843.0l11.0,11.0M366.0,854.0l11.0,-11.0M372.0,849.5h11.0M377.5,844.0v11.0M372.0,844.0l11.0,11.0M372.0,855.0l11.0,-11.0M378.0,847.5h11.0M383.5,842.0v11.0M378.0,842.0l11.0,11.0M378.0,853.0l11.0,-11.0M384.0,842.5h11.0M389.5,837.0v11.0M384.0,837.0l11.0,11.0M384.0,848.0l11.0,-11.0M391.0,842.5h11.0M396.5,837.0v11.0M391.0,837.0l11.0,11.0M391.0,848.0l11.0,-11.0M397.0,848.5h11.0M402.5,843.0v11.0M397.0,843.0l11.0,11.0M397.0,854.0l11.0,-11.0M403.0,850.5h11.0M408.5,845.0v11.0M403.0,845.0l11.0,11.0M403.0,856.0l11.0,-11.0M421.0,855.5h11.0M426.5,850.0v11.0M421.0,850.0l11.0,11.0M421.0,861.0l11.0,-11.0M440.0,860.5h11.0M445.5,855.0v11.0M440.0,855.0l11.0,11.0M440.0,866.0l11.0,-11.0M458.0,862.5h11.0M463.5,857.0v11.0M458.0,857.0l11.0,11.0M458.0,868.0l11.0,-11.0M477.0,864.5h11.0M482.5,859.0v11.0M477.0,859.0l11.0,11.0M477.0,870.0l11.0,-11.0M495.0,869.5h11.0M500.5,864.0v11.0M495.0,864.0l11.0,11.0M495.0,875.0l11.0,-11.0M514.0,876.5h11.0M519.5,871.0v11.0M514.0,871.0l11.0,11.0M514.0,882.0l11.0,-11.0M532.0,874.5h11.0M537.5,869.0v11.0M532.0,869.0l11.0,11.0M532.0,880.0l11.0,-11.0M551.0,869.5h11.0M556.5,864.0v11.0M551.0,864.0l11.0,11.0M551.0,875.0l11.0,-11.0M570.0,868.5h11.0M575.5,863.0v11.0M570.0,863.0l11.0,11.0M570.0,874.0l11.0,-11.0M588.0,869.5h11.0M593.5,864.0v11.0M588.0,864.0l11.0,11.0M588.0,875.0l11.0,-11.0M607.0,873.5h11.0M612.5,868.0v11.0M607.0,868.0l11.0,11.0M607.0,879.0l11.0,-11.0M625.0,876.5h11.0M630.5,871.0v11.0M625.0,871.0l11.0,11.0M625.0,882.0l11.0,-11.0M644.0,880.5h11.0M649.5,875.0v11.0M644.0,875.0l11.0,11.0M644.0,886.0l11.0,-11.0M662.0,883.5h11.0M667.5,878.0v11.0M662.0,878.0l11.0,11.0M662.0,889.0l11.0,-11.0M681.0,875.5h11.0M686.5,870.0v11.0M681.0,870.0l11.0,11.0M681.0,881.0l11.0,-11.0M699.0,867.5h11.0M704.5,862.0v11.0M699.0,862.0l11.0,11.0M699.0,873.0l11.0,-11.0M718.0,867.5h11.0M723.5,862.0v11.0M718.0,862.0l11.0,11.0M718.0,873.0l11.0,-11.0M736.0,862.5h11.0M741.5,857.0v11.0M736.0,857.0l11.0,11.0M736.0,868.0l11.0,-11.0M755.0,862.5h11.0M760.5,857.0v11.0M755.0,857.0l11.0,11.0M755.0,868.0l11.0,-11.0M773.0,853.5h11.0M778.5,848.0v11.0M773.0,848.0l11.0,11.0M773.0,859.0l11.0,-11.0M792.0,851.5h11.0M797.5,846.0v11.0M792.0,846.0l11.0,11.0M792.0,857.0l11.0,-11.0M810.0,852.5h11.0M815.5,847.0v11.0M810.0,847.0l11.0,11.0M810.0,858.0l11.0,-11.0M829.0,849.5h11.0M834.5,844.0v11.0M829.0,844.0l11.0,11.0M829.0,855.0l11.0,-11.0M847.0,856.5h11.0M852.5,851.0v11.0M847.0,851.0l11.0,11.0M847.0,862.0l11.0,-11.0M866.0,867.5h11.0M871.5,862.0v11.0M866.0,862.0l11.0,11.0M866.0,873.0l11.0,-11.0M884.0,873.5h11.0M889.5,868.0v11.0M884.0,868.0l11.0,11.0M884.0,879.0l11.0,-11.0M903.0,876.5h11.0M908.5,871.0v11.0M903.0,871.0l11.0,11.0M903.0,882.0l11.0,-11.0M921.0,877.5h11.0M926.5,872.0v11.0M921.0,872.0l11.0,11.0M921.0,883.0l11.0,-11.0M940.0,876.5h11.0M945.5,871.0v11.0M940.0,871.0l11.0,11.0M940.0,882.0l11.0,-11.0M958.0,878.5h11.0M963.5,873.0v11.0M958.0,873.0l11.0,11.0M958.0,884.0l11.0,-11.0M977.0,876.5h11.0M982.5,871.0v11.0M977.0,871.0l11.0,11.0M977.0,882.0l11.0,-11.0M995.0,872.5h11.0M1000.5,867.0v11.0M995.0,867.0l11.0,11.0M995.0,878.0l11.0,-11.0M1014.0,871.5h11.0M1019.5,866.0v11.0M1014.0,866.0l11.0,11.0M1014.0,877.0l11.0,-11.0M1032.0,870.5h11.0M1037.5,865.0v11.0M1032.0,865.0l11.0,11.0M1032.0,876.0l11.0,-11.0M1051.0,874.5h11.0M1056.5,869.0v11.0M1051.0,869.0l11.0,11.0M1051.0,880.0l11.0,-11.0M1069.0,874.5h11.0M1074.5,869.0v11.0M1069.0,869.0l11.0,11.0M1069.0,880.0l11.0,-11.0M1088.0,863.5h11.0M1093.5,858.0v11.0M1088.0,858.0l11.0,11.0M1088.0,869.0l11.0,-11.0M1106.0,863.5h11.0M1111.5,858.0v11.0M1106.0,858.0l11.0,11.0M1106.0,869.0l11.0,-11.0M1125.0,875.5h11.0M1130.5,870.0v11.0M1125.0,870.0l11.0,11.0M1125.0,881.0l11.0,-11.0M1143.0,873.5h11.0M1148.5,868.0v11.0M1143.0,868.0l11.0,11.0M1143.0,879.0l11.0,-11.0M1162.0,873.5h11.0M1167.5,868.0v11.0M1162.0,868.0l11.0,11.0M1162.0,879.0l11.0,-11.0M1180.0,872.5h11.0M1185.5,867.0v11.0M1180.0,867.0l11.0,11.0M1180.0,878.0l11.0,-11.0M1199.0,876.5h11.0M1204.5,871.0v11.0M1199.0,871.0l11.0,11.0M1199.0,882.0l11.0,-11.0M1217.0,871.5h11.0M1222.5,866.0v11.0M1217.0,866.0l11.0,11.0M1217.0,877.0l11.0,-11.0M1236.0,858.5h11.0M1241.5,853.0v11.0M1236.0,853.0l11.0,11.0M1236.0,864.0l11.0,-11.0M1255.0,861.5h11.0M1260.5,856.0v11.0M1255.0,856.0l11.0,11.0M1255.0,867.0l11.0,-11.0M1273.0,875.5h11.0M1278.5,870.0v11.0M1273.0,870.0l11.0,11.0M1273.0,881.0l11.0,-11.0M1292.0,879.5h11.0M1297.5,874.0v11.0M1292.0,874.0l11.0,11.0M1292.0,885.0l11.0,-11.0M1310.0,880.5h11.0M1315.5,875.0v11.0M1310.0,875.0l11.0,11.0M1310.0,886.0l11.0,-11.0M1329.0,879.5h11.0M1334.5,874.0v11.0M1329.0,874.0l11.0,11.0M1329.0,885.0l11.0,-11.0M1347.0,880.5h11.0M1352.5,875.0v11.0M1347.0,875.0l11.0,11.0M1347.0,886.0l11.0,-11.0M1366.0,871.5h11.0M1371.5,866.0v11.0M1366.0,866.0l11.0,11.0M1366.0,877.0l11.0,-11.0M1403.0,848.5h11.0M1408.5,843.0v11.0M1403.0,843.0l11.0,11.0M1403.0,854.0l11.0,-11.0M1440.0,862.5h11.0M1445.5,857.0v11.0M1440.0,857.0l11.0,11.0M1440.0,868.0l11.0,-11.0" stroke="#ffa500" stroke-width="1.1" fill="none"/>
<path d="M1390.0,123.0h9v9h-9z" fill="#0000cd"/>
<circle cx="1394.5" cy="160.5" r="5.5" fill="#006400"/>
<path d="M1394.5,187.6l5.8,10.4h-11.6z" fill="#ff0000"/>
<path d="M1388.7,222.0h11.6l-5.8,10.2z" fill="#000"/>
<path d="M1394.5,252.9l5.6,5.6l-5.6,5.6l-5.6,-5.6z" fill="#bebebe"/>
<path d="M1394.5,297.2L1399.9,293.3L1397.9,286.9L1391.1,286.9L1389.1,293.3z" fill="#87ceeb"/>
<path d="M1389.0,324.5h11.0M1394.5,319.0v11.0M1389.0,319.0l11.0,11.0M1389.0,330.0l11.0,-11.0" stroke="#ffa500" stroke-width="1.1" fill="none"/>
<rect x="124.5" y="98.5" width="1333.0" height="796.0" fill="none" stroke="#000" stroke-width="1"/>
</svg>
</body></html>
